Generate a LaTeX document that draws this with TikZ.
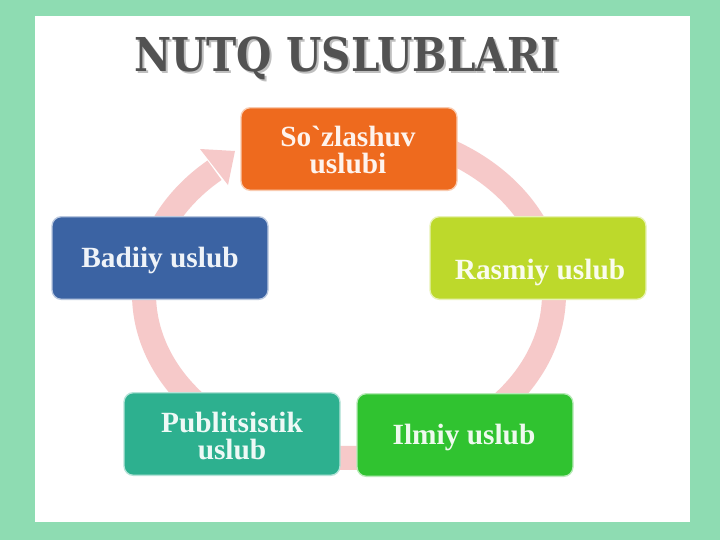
\documentclass[tikz,border=0pt]{standalone}
\usepackage{fontspec}
\usepackage{tikz}
\setmainfont{Liberation Serif}
\newfontfamily\titlefont[FakeStretch=0.87]{DejaVu Serif}
\definecolor{frame}{HTML}{8EDCB2}
\definecolor{ring}{HTML}{F6C9C9}
\definecolor{sozcol}{HTML}{EE6A1E}
\definecolor{badcol}{HTML}{3B63A3}
\definecolor{rascol}{HTML}{BDD92B}
\definecolor{pubcol}{HTML}{2DB08F}
\definecolor{ilmcol}{HTML}{30C330}
\newcommand{\titletext}{\titlefont\fontsize{35}{35}\selectfont\bfseries}

\begin{document}
\begin{tikzpicture}[x=0.75pt, y=-0.75pt,
	box/.style={rounded corners=7pt, minimum width=162pt, minimum height=62pt, draw=white!65!#1, line width=1pt, fill=#1},
	lbl/.style={text=white!92!#1, align=center, font=\fontsize{22}{20.5}\selectfont\bfseries}]
	\useasboundingbox (0, 0) rectangle (720, 540);
	\fill[frame] (0, 0) rectangle (720, 540);
	\fill[white] (35, 16) rectangle (690, 522);
	\node[font=\titletext, text=black!25] (titleshadow) at (349, 60) {NUTQ USLUBLARI};
	\node[font=\titletext, text=black!68] (title) at (347, 58) {NUTQ USLUBLARI};
	% circular arrow behind the boxes
	\draw[ring, line width=18pt] plot[domain=75:-229, samples=90, smooth] ({349+205*cos(\x)}, {294-164*sin(\x)});
	\fill[ring] (200, 149) -- (235, 151) -- (228, 185) -- cycle;
	\node[box=sozcol] (soz) at (349, 149) {};
	\node[box=badcol] (badiiy) at (160, 258) {};
	\node[box=rascol] (rasmiy) at (538, 258) {};
	\node[box=pubcol] (publ) at (232, 434) {};
	\node[box=ilmcol] (ilmiy) at (465, 435) {};
	\node[lbl=sozcol] (soz-t) at (348, 150) {So\textasciigrave zlashuv\\uslubi};
	\node[lbl=badcol] (badiiy-t) at (160, 260) {Badiiy uslub};
	\node[lbl=rascol] (rasmiy-t) at (540, 272) {Rasmiy uslub};
	\node[lbl=pubcol] (publ-t) at (232, 436) {Publitsistik\\uslub};
	\node[lbl=ilmcol] (ilmiy-t) at (464, 437) {Ilmiy uslub};
\end{tikzpicture}
\end{document}
